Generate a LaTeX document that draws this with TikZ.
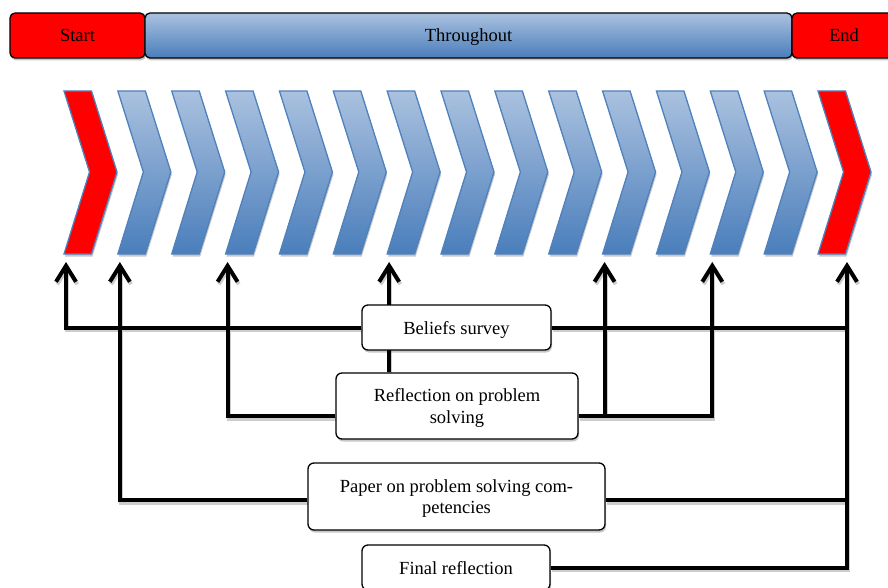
\documentclass[tikz,border=0pt]{standalone}
\usepackage{fontspec}
\setmainfont{Liberation Serif}
\usetikzlibrary{arrows.meta,shadows,calc}
\pgfdeclarelayer{bg}
\pgfsetlayers{bg,main}
\definecolor{lblue}{RGB}{170,193,223}
\definecolor{dblue}{RGB}{74,126,187}
\definecolor{edgeblue}{RGB}{79,129,189}
\definecolor{shgray}{RGB}{205,205,205}
\tikzset{
  shad/.style={drop shadow={shadow xshift=1pt, shadow yshift=-2.5pt, fill=black, opacity=0.22}},
  bar/.style={draw=black, line width=1.3pt, rounded corners=5pt, minimum height=45pt, inner sep=0pt, text depth=0pt, shad},
  redbar/.style={bar, fill=red},
  bluebar/.style={bar, top color=lblue, bottom color=dblue},
  chevblue/.style={draw=edgeblue, line width=1.3pt, top color=lblue, bottom color=dblue, shad},
  chevred/.style={draw=edgeblue, line width=1.3pt, fill=red, shad},
  box/.style={draw=black, fill=white, line width=1.3pt, rounded corners=6pt, align=center, inner sep=0pt, text depth=0pt, shad},
  conn/.style={line width=4pt},
  arr/.style={line width=4pt, -{Straight Barb[length=16pt,width=20pt]}},
}
\newcommand\myconnectors{%
  \draw[arr] (beliefs.west) -| (c1);
  \draw[conn] (beliefs.east) -- (beliefs.east -| c15);
  \draw[arr] (rw) -| (c4);
  \draw[arr] (c7 |- refl.north) -- (c7);
  \draw[arr] (re) -| (c13);
  \draw[arr] (c11 |- re) -- (c11);
  \draw[arr] (pw) -| (c2);
  \draw[conn] (pe) -- (pe -| c15);
  \draw[arr] (final.east) -| (c15);
}
\begin{document}
\begin{tikzpicture}[x=1pt,y=-1pt]
\useasboundingbox (0,0) rectangle (888,588);
\fontsize{18.5}{21.5}\selectfont
% top bars
\node[redbar, minimum width=135pt] (start) at (77.5,35.5) {Start};
\node[bluebar, minimum width=647pt] (through) at (468.5,35.5) {Throughout};
\node[redbar, minimum width=104pt] (endb) at (844,35.5) {End};
% chevrons
\foreach \i in {2,...,14}{
  \pgfmathsetmacro{\L}{64+(\i-1)*53.857}
  \draw[chevblue] (\L,91) -- ++(27.5,0) -- ++(25.5,81) -- ++(-25.5,82) -- ++(-27.5,0) -- ++(25.5,-82) -- cycle;
  \coordinate (c\i) at (\L+2,262);
}
\foreach \i/\L in {1/64,15/818}{
  \draw[chevred] (\L,91) -- ++(27.5,0) -- ++(25.5,81) -- ++(-25.5,82) -- ++(-27.5,0) -- ++(25.5,-82) -- cycle;
}
\coordinate (c1) at (66,262);
\coordinate (c15) at (847,262);
% boxes
\node[box, minimum width=189pt, minimum height=45pt] (beliefs) at (456.5,327.5) {Beliefs survey};
\node[box, minimum width=242pt, minimum height=66pt] (refl) at (457,406) {Reflection on problem\\solving};
\node[box, minimum width=297pt, minimum height=67pt] (paper) at (456.5,496.5) {Paper on problem solving com-\\petencies};
\node[box, minimum width=188pt, minimum height=45pt] (final) at (456,567.5) {Final reflection};
\coordinate (rw) at ([yshift=-10pt]refl.west);
\coordinate (re) at ([yshift=-10pt]refl.east);
\coordinate (pw) at ([yshift=-3.5pt]paper.west);
\coordinate (pe) at ([yshift=-3.5pt]paper.east);
% connectors
\begin{pgfonlayer}{bg}
  \begin{scope}[transform canvas={shift={(1.2pt,-2.5pt)}}, shgray, draw=shgray]
    \myconnectors
  \end{scope}
  \myconnectors
\end{pgfonlayer}
\end{tikzpicture}
\end{document}
